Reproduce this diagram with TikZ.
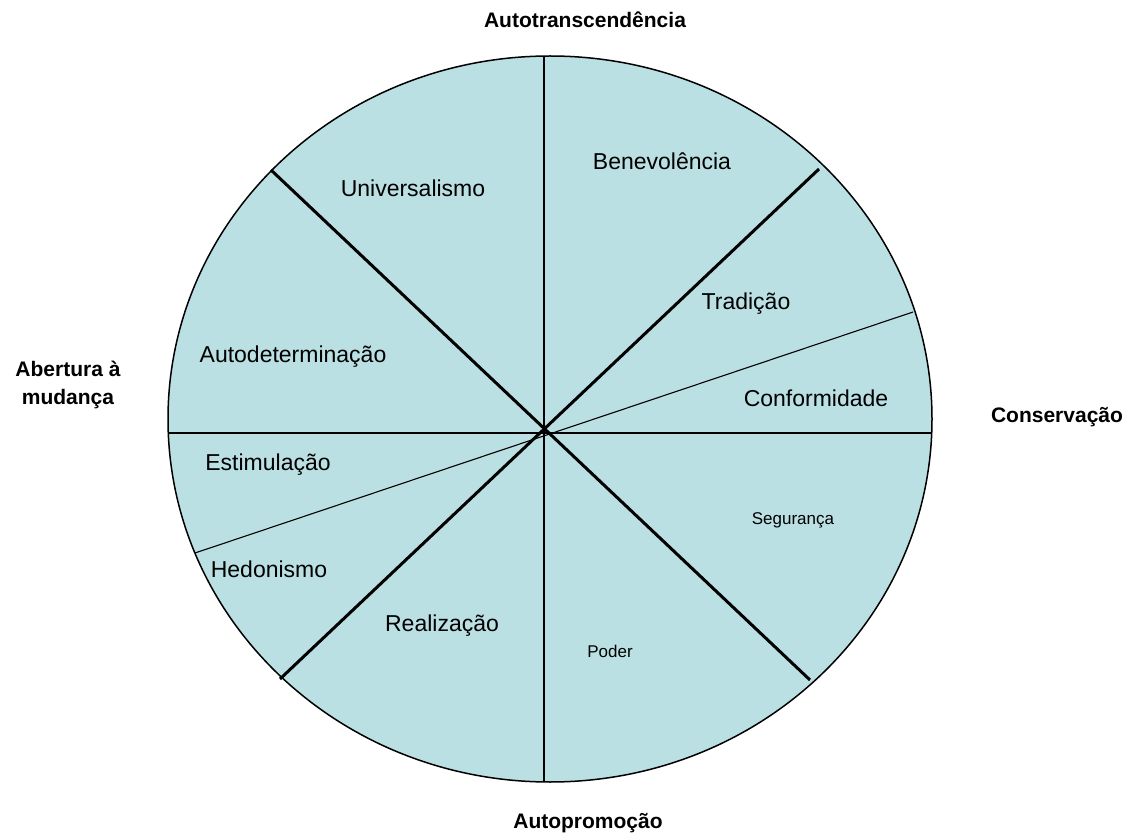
\documentclass[tikz,border=0pt]{standalone}
\usepackage{fontspec}
\setmainfont{Liberation Sans}
\definecolor{sectorfill}{HTML}{BBE0E3}
\begin{document}
\begin{tikzpicture}[x=1pt,y=-1pt,
  seclabel/.style={font=\fontsize{23}{27}\selectfont, inner sep=0pt},
  smalllabel/.style={font=\fontsize{17}{20}\selectfont, inner sep=0pt},
  axislabel/.style={font=\fontsize{21}{28}\selectfont\bfseries, inner sep=0pt, align=center},
  thinline/.style={line width=1.1pt, black},
  thickline/.style={line width=3pt, black}]
\useasboundingbox (0,0) rectangle (1136,834);
% wheel
\path[fill=sectorfill, draw=black, line width=1.5pt] (550,419) ellipse [x radius=382pt, y radius=363pt];
% coordinates
\coordinate (O) at (544,432);
\coordinate (L) at (168,433);
\coordinate (R) at (932,433);
\coordinate (T) at (544,56);
\coordinate (B) at (544,782);
\coordinate (SR) at (913,312);
\coordinate (SL) at (195,553);
\coordinate (TL) at (271,170);
\coordinate (BR) at (810,680);
\coordinate (TR) at (819,169);
\coordinate (BL) at (280,679);
% thin lines
\draw[thinline] (L) -- (R);
\draw[thinline] (T) -- (B);
\draw[thinline] (SL) -- (SR);
% thick lines
\draw[thickline] (TL) -- (BR);
\draw[thickline] (BL) -- (TR);
% sector labels
\node[seclabel] (univ) at (413,188) {Universalismo};
\node[seclabel] (bene) at (662,161) {Benevolência};
\node[seclabel] (trad) at (746,304) {Tradição};
\node[seclabel] (conf) at (816,398) {Conformidade};
\node[seclabel] (autod) at (293,357) {Autodeterminação};
\node[seclabel] (estim) at (268,465) {Estimulação};
\node[seclabel] (hedon) at (269,569) {Hedonismo};
\node[seclabel] (real) at (442,626) {Realização};
\node[smalllabel] (poder) at (610,651) {Poder};
\node[smalllabel] (seg) at (793,520) {Segurança};
% axis labels
\node[axislabel] (top) at (585,20) {Autotranscendência};
\node[axislabel] (bot) at (588,823) {Autopromoção};
\node[axislabel] (right) at (1057,417) {Conservação};
\node[axislabel] (left) at (68,385) {Abertura à\\mudança};
\end{tikzpicture}
\end{document}
